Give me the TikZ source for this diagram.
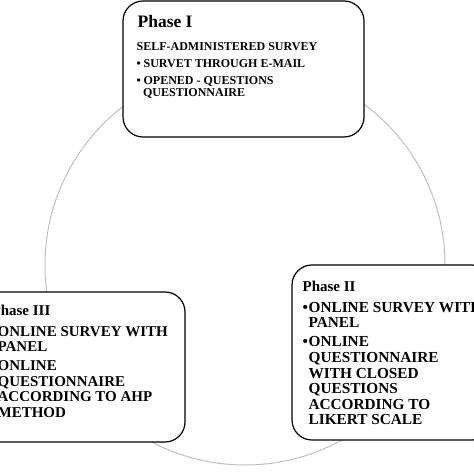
\documentclass[tikz,border=0pt]{standalone}
\usepackage{fontspec}
\setmainfont{Liberation Serif}
\usetikzlibrary{positioning}
\newcommand{\bul}[1][6pt]{\makebox[#1][l]{\textbullet}}
\newcommand{\ind}[1][6pt]{\hspace*{#1}}

\begin{document}
\begin{tikzpicture}[x=1pt,y=1pt,
        phasebox/.style={draw=black, line width=1.2pt, fill=white, rounded corners=20pt, inner sep=0pt},
        phasetext/.style={anchor=base west, inner sep=0pt, font=\bfseries}]
        \useasboundingbox (0,0) rectangle (474,474);
        \clip (0,0) rectangle (474,474);
        \draw[black!25, line width=1pt] (245,209) circle (200pt);
        % Phase I
        \node[phasebox, minimum width=241pt, minimum height=136pt] (phaseI) at (243.5,405) {};
        \node[phasetext, font=\bfseries\fontsize{17.5}{18}\selectfont] (titleI) at ([xshift=15pt,yshift=-27.5pt]phaseI.north west) {Phase I};
        \node[phasetext, font=\bfseries\fontsize{12}{11.7}\selectfont] (bodyI) at ([xshift=14pt,yshift=-50pt]phaseI.north west)
            {\begin{tabular}[t]{@{}l@{}}
             SELF-ADMINISTERED SURVEY\\[5.3pt]
             \bul[7pt]SURVET THROUGH E-MAIL\\[5.3pt]
             \bul[7pt]OPENED - QUESTIONS\\
             \ind[6.5pt]QUESTIONNAIRE
             \end{tabular}};
        % Phase II
        \node[phasebox, minimum width=200pt, minimum height=175pt] (phaseII) at (392,121.5) {};
        \node[phasetext, font=\bfseries\fontsize{15}{15}\selectfont] (titleII) at ([xshift=11pt,yshift=-27pt]phaseII.north west) {Phase II};
        \node[phasetext, font=\bfseries\fontsize{15.3}{15.6}\selectfont] (bodyII) at ([xshift=11pt,yshift=-48pt]phaseII.north west)
            {\begin{tabular}[t]{@{}l@{}}
             \bul ONLINE SURVEY WITH\\
             \ind PANEL\\[3.4pt]
             \bul ONLINE\\
             \ind QUESTIONNAIRE\\
             \ind WITH CLOSED\\
             \ind QUESTIONS\\
             \ind ACCORDING TO\\
             \ind LIKERT SCALE
             \end{tabular}};
        % Phase III
        \node[phasebox, minimum width=204pt, minimum height=150pt] (phaseIII) at (83,107) {};
        \node[phasetext, font=\bfseries\fontsize{15}{15}\selectfont] (titleIII) at ([xshift=11pt,yshift=-24pt]phaseIII.north west) {Phase III};
        \node[phasetext, font=\bfseries\fontsize{15}{15.5}\selectfont] (bodyIII) at ([xshift=11pt,yshift=-45pt]phaseIII.north west)
            {\begin{tabular}[t]{@{}l@{}}
             \bul ONLINE SURVEY WITH\\
             \ind PANEL\\[3.5pt]
             \bul ONLINE\\
             \ind QUESTIONNAIRE\\
             \ind ACCORDING TO AHP\\
             \ind METHOD
             \end{tabular}};
\end{tikzpicture}
\end{document}
